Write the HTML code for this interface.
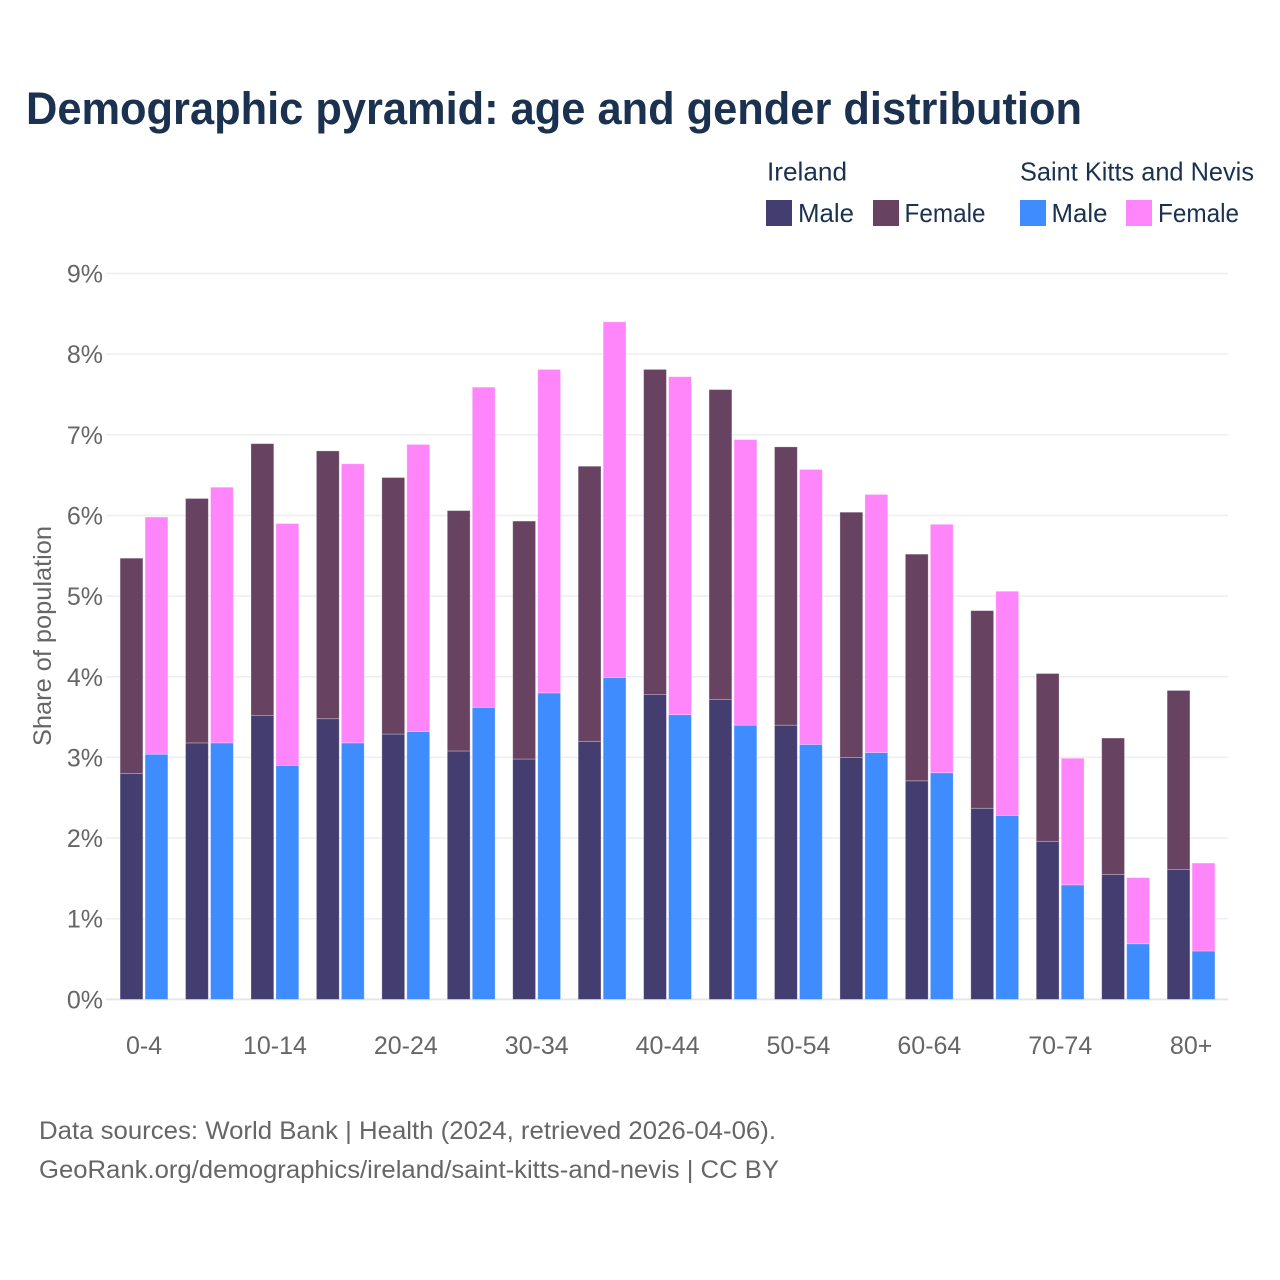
<!DOCTYPE html>
<html lang="en">
<head>
<meta charset="utf-8">
<title>Demographic pyramid: age and gender distribution</title>
<style>
html,body{margin:0;padding:0;background:#fff;}
svg{display:block;}
text{font-family:"Liberation Sans",sans-serif;}
</style>
</head>
<body>
<svg id="chart" xmlns="http://www.w3.org/2000/svg" width="1280" height="1280" viewBox="0 0 1280 1280">
  <rect x="0" y="0" width="1280" height="1280" fill="#ffffff"/>
  <text x="26" y="124" font-size="45" font-weight="700" fill="#1a3150" textLength="1056" lengthAdjust="spacingAndGlyphs">Demographic pyramid: age and gender distribution</text>

  <g font-size="26" fill="#1a3150">
    <text x="767" y="180.5" textLength="80" lengthAdjust="spacingAndGlyphs">Ireland</text>
    <text x="1020" y="180.5" textLength="234" lengthAdjust="spacingAndGlyphs">Saint Kitts and Nevis</text>
    <rect x="766" y="200" width="26" height="26" fill="#433e6f"/>
    <text x="798" y="222" textLength="56" lengthAdjust="spacingAndGlyphs">Male</text>
    <rect x="873" y="200" width="26" height="26" fill="#674261"/>
    <text x="904.5" y="222" textLength="81" lengthAdjust="spacingAndGlyphs">Female</text>
    <rect x="1020" y="200" width="26" height="26" fill="#3f8cff"/>
    <text x="1051.5" y="222" textLength="56" lengthAdjust="spacingAndGlyphs">Male</text>
    <rect x="1126" y="200" width="26" height="26" fill="#ff85fa"/>
    <text x="1158" y="222" textLength="81" lengthAdjust="spacingAndGlyphs">Female</text>
  </g>

  <g id="grid"></g>
  <g id="yticks" font-size="25" fill="#666666"></g>
  <g id="bars"></g>
  <g id="xticks" font-size="25" fill="#666666"></g>

  <text transform="translate(51,636) rotate(-90)" text-anchor="middle" font-size="25" fill="#666666" textLength="220" lengthAdjust="spacingAndGlyphs">Share of population</text>

  <g font-size="25" fill="#666666">
    <text x="39" y="1139" textLength="737" lengthAdjust="spacingAndGlyphs">Data sources: World Bank | Health (2024, retrieved 2026-04-06).</text>
    <text x="39" y="1178" textLength="740" lengthAdjust="spacingAndGlyphs">GeoRank.org/demographics/ireland/saint-kitts-and-nevis | CC BY</text>
  </g>
</svg>
<script>
const categories = ['0-4','5-9','10-14','15-19','20-24','25-29','30-34','35-39','40-44','45-49','50-54','55-59','60-64','65-69','70-74','75-79','80+'];
const irelandMale = [2.80,3.18,3.52,3.48,3.29,3.08,2.98,3.20,3.78,3.72,3.40,3.00,2.71,2.37,1.96,1.55,1.61];
const irelandFemale = [2.67,3.03,3.37,3.32,3.18,2.98,2.95,3.41,4.03,3.84,3.45,3.04,2.81,2.45,2.08,1.69,2.22];
const sknMale = [3.04,3.18,2.90,3.18,3.32,3.62,3.80,3.99,3.53,3.40,3.16,3.06,2.81,2.28,1.42,0.69,0.60];
const sknFemale = [2.94,3.17,3.00,3.46,3.56,3.97,4.01,4.41,4.19,3.54,3.41,3.20,3.08,2.78,1.57,0.82,1.09];
const yTicks = [0,1,2,3,4,5,6,7,8,9];
const xTickLabels = ['0-4','10-14','20-24','30-34','40-44','50-54','60-64','70-74','80+'];

const NS = 'http://www.w3.org/2000/svg';
const COLORS = {irelandMale:'#433e6f', irelandFemale:'#674261', sknMale:'#3f8cff', sknFemale:'#ff85fa'};
const Y0 = 999.4, PX_PER_UNIT = 80.66;
const X_FIRST = 144.1, X_STEP = 65.44;
const BAR_W = 22.8, LEFT_OFFSET = -24, RIGHT_OFFSET = 1;

function yScale(v){ return Y0 - v * PX_PER_UNIT; }
function xCenter(i){ return X_FIRST + i * X_STEP; }

function addBar(parent, x, v0, v1, fill, name){
  const r = document.createElementNS(NS, 'rect');
  r.setAttribute('x', x.toFixed(2));
  r.setAttribute('y', yScale(v1).toFixed(2));
  r.setAttribute('width', BAR_W);
  r.setAttribute('height', (yScale(v0) - yScale(v1)).toFixed(2));
  r.setAttribute('fill', fill);
  r.setAttribute('stroke', '#ffffff');
  r.setAttribute('stroke-opacity', '0.35');
  r.setAttribute('stroke-width', '0.8');
  
  
  parent.appendChild(r);
}

const gridG = document.getElementById('grid');
const yG = document.getElementById('yticks');
yTicks.forEach(function(t){
  const l = document.createElementNS(NS, 'line');
  l.setAttribute('x1', 106);
  l.setAttribute('x2', 1228);
  l.setAttribute('y1', yScale(t));
  l.setAttribute('y2', yScale(t));
  l.setAttribute('stroke', t === 0 ? '#e6e6e6' : '#eeeeee');
  l.setAttribute('stroke-width', t === 0 ? 2 : 1.5);
  
  
  gridG.appendChild(l);
  const tx = document.createElementNS(NS, 'text');
  tx.setAttribute('x', 103);
  tx.setAttribute('y', yScale(t) + 9);
  tx.setAttribute('text-anchor', 'end');
  tx.textContent = t + '%';
  
  
  yG.appendChild(tx);
});

const barsG = document.getElementById('bars');
categories.forEach(function(c, i){
  const cx = xCenter(i);
  const leftX = cx + LEFT_OFFSET;
  const rightX = cx + RIGHT_OFFSET;
  addBar(barsG, leftX, 0, irelandMale[i], COLORS.irelandMale, 'bar-ireland-male-' + c);
  addBar(barsG, leftX, irelandMale[i], irelandMale[i] + irelandFemale[i], COLORS.irelandFemale, 'bar-ireland-female-' + c);
  addBar(barsG, rightX, 0, sknMale[i], COLORS.sknMale, 'bar-skn-male-' + c);
  addBar(barsG, rightX, sknMale[i], sknMale[i] + sknFemale[i], COLORS.sknFemale, 'bar-skn-female-' + c);
});

const xG = document.getElementById('xticks');
xTickLabels.forEach(function(label){
  const idx = categories.indexOf(label);
  const tx = document.createElementNS(NS, 'text');
  tx.setAttribute('x', xCenter(idx));
  tx.setAttribute('y', 1054);
  tx.setAttribute('text-anchor', 'middle');
  tx.textContent = label;
  
  
  xG.appendChild(tx);
});
</script>
</body>
</html>
